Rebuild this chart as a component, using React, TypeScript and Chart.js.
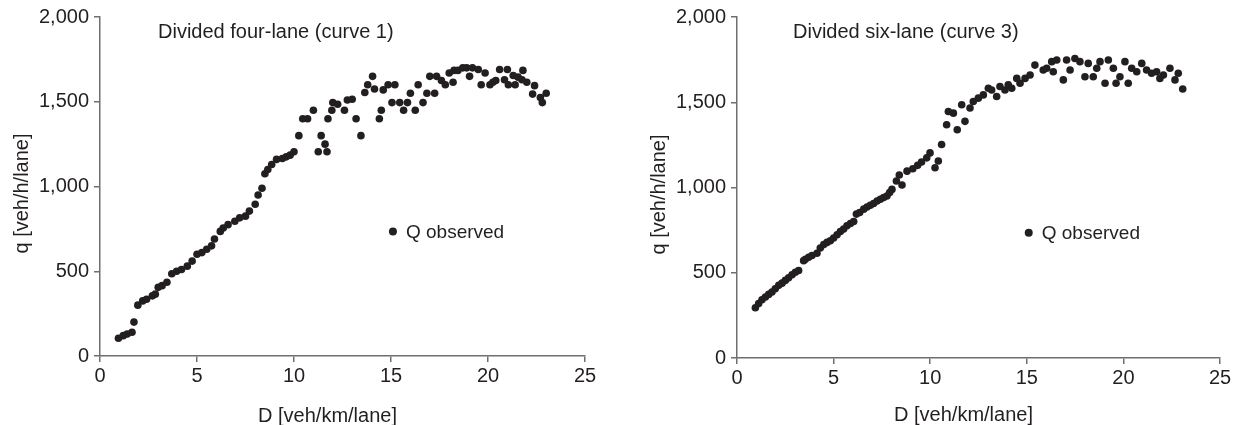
import React, { useEffect, useRef } from "react";
import { Chart, registerables } from "chart.js";

Chart.register(...registerables);

// ---- data ----
const fourLaneD = [
  0.95, 1.2, 1.4, 1.65, 1.75, 1.95, 2.2, 2.4, 2.7, 2.85, 3.0, 3.2, 3.45, 3.7, 3.95, 4.2, 4.5, 4.75, 5.0, 5.25,
  5.5, 5.75, 5.9, 6.2, 6.35, 6.6, 6.95, 7.2, 7.5, 7.7, 8.0, 8.15, 8.35, 8.5, 8.65, 8.85, 9.1, 9.4, 9.6, 9.8,
  10.0, 10.25, 10.45, 10.7, 11.0, 11.25, 11.4, 11.6, 11.7, 11.75, 11.95, 12.0, 12.25, 12.6, 12.75, 13.0, 13.2, 13.45, 13.65, 13.8,
  14.05, 14.15, 14.4, 14.5, 14.6, 14.85, 15.05, 15.2, 15.45, 15.65, 15.85, 16.0, 16.25, 16.4, 16.65, 16.85, 17.0, 17.25, 17.35, 17.6,
  17.8, 18.0, 18.2, 18.25, 18.45, 18.7, 18.9, 19.05, 19.2, 19.5, 19.65, 19.85, 20.1, 20.25, 20.4, 20.6, 20.85, 21.0, 21.05, 21.3,
  21.4, 21.55, 21.75, 21.8, 22.0, 22.3, 22.4, 22.7, 22.8, 23.0,
];
const fourLaneQ = [
  105, 120, 130, 140, 200, 300, 325, 335, 355, 365, 405, 415, 435, 485, 500, 510, 530, 560, 600, 610,
  630, 650, 690, 735, 755, 775, 795, 815, 825, 855, 895, 950, 990, 1075, 1100, 1130, 1160, 1165, 1175, 1185,
  1205, 1300, 1400, 1400, 1450, 1205, 1300, 1250, 1205, 1400, 1450, 1495, 1485, 1450, 1510, 1515, 1400, 1300, 1555, 1600,
  1650, 1575, 1400, 1450, 1570, 1600, 1495, 1600, 1495, 1450, 1495, 1550, 1450, 1600, 1495, 1550, 1650, 1550, 1650, 1625,
  1600, 1670, 1615, 1685, 1685, 1700, 1700, 1650, 1700, 1690, 1600, 1670, 1600, 1615, 1625, 1690, 1630, 1690, 1600, 1655,
  1600, 1645, 1630, 1685, 1615, 1545, 1595, 1525, 1495, 1550,
];

const sixLaneD = [
  0.95, 1.12, 1.29, 1.47, 1.64, 1.81, 1.98, 2.16, 2.33, 2.5, 2.67, 2.85, 3.02, 3.19, 3.45, 3.54, 3.71, 3.88, 4.14, 4.31,
  4.49, 4.66, 4.83, 5.0, 5.18, 5.35, 5.52, 5.69, 5.87, 6.04, 6.18, 6.35, 6.56, 6.73, 6.9, 7.07, 7.25, 7.42, 7.59, 7.76,
  7.9, 8.02, 8.25, 8.4, 8.54, 8.8, 9.1, 9.35, 9.55, 9.82, 9.99, 10.25, 10.42, 10.59, 10.85, 10.94, 11.2, 11.4, 11.63, 11.8,
  12.06, 12.23, 12.49, 12.75, 13.01, 13.18, 13.44, 13.61, 13.87, 14.04, 14.22, 14.48, 14.65, 14.91, 15.17, 15.42, 15.85, 16.03, 16.29, 16.37,
  16.55, 16.89, 17.06, 17.24, 17.49, 17.75, 18.01, 18.18, 18.44, 18.62, 18.79, 19.05, 19.22, 19.48, 19.62, 19.82, 20.08, 20.25, 20.43, 20.69,
  20.95, 21.2, 21.46, 21.72, 21.89, 22.07, 22.41, 22.67, 22.84, 23.07,
];
const sixLaneQ = [
  295, 319, 342, 358, 373, 387, 406, 426, 439, 455, 470, 488, 503, 513, 571, 579, 591, 601, 614, 645,
  665, 678, 688, 704, 723, 742, 756, 776, 789, 801, 844, 853, 873, 886, 896, 906, 921, 931, 941, 950,
  970, 989, 1038, 1073, 1015, 1096, 1110, 1130, 1150, 1174, 1203, 1116, 1155, 1252, 1368, 1446, 1436, 1339, 1485, 1388,
  1466, 1504, 1524, 1543, 1582, 1572, 1534, 1592, 1572, 1602, 1582, 1640, 1611, 1640, 1660, 1718, 1689, 1699, 1738, 1679,
  1748, 1631, 1748, 1689, 1757, 1738, 1650, 1728, 1650, 1699, 1738, 1611, 1748, 1699, 1611, 1650, 1738, 1611, 1699, 1679,
  1728, 1689, 1670, 1679, 1640, 1660, 1699, 1631, 1670, 1578,
];

const xTicks = [0, 5, 10, 15, 20, 25];
const yTicks = [0, 500, 1000, 1500, 2000];
const panelTitles = ["Divided four-lane (curve 1)", "Divided six-lane (curve 3)"];
const xAxisTitle = "D [veh/km/lane]";
const yAxisTitle = "q [veh/h/lane]";
const legendLabel = "Q observed";
const legendAt = [15.1, 735];

// ---- styling ----
const FONT = '"Liberation Sans", Arial, Helvetica, sans-serif';
const INK = "#231f20";
const AXIS = "#6f6f6f";

const panelText = {
  id: "panelText",
  afterDraw(chart: any, _args: any, opts: any) {
    const { ctx, chartArea: ca, scales } = chart;
    ctx.save();
    ctx.fillStyle = INK;
    ctx.textBaseline = "middle";
    ctx.font = `20px ${FONT}`;
    ctx.textAlign = "left";
    ctx.fillText(opts.title, ca.left + opts.titleDx, ca.top + 15);

    const lx = scales.x.getPixelForValue(legendAt[0]);
    const ly = scales.y.getPixelForValue(legendAt[1]);
    ctx.beginPath();
    ctx.arc(lx, ly, 4, 0, Math.PI * 2);
    ctx.fill();
    ctx.font = `19px ${FONT}`;
    ctx.fillText(legendLabel, lx + 13, ly + 1);

    ctx.font = `20px ${FONT}`;
    ctx.textAlign = "center";
    ctx.fillText(xAxisTitle, (ca.left + ca.right) / 2 - 15, ca.bottom + opts.xTitleDy);

    ctx.translate(ca.left + opts.yTitleDx, (ca.top + ca.bottom) / 2 + 7);
    ctx.rotate(-Math.PI / 2);
    ctx.fillText(yAxisTitle, 0, 0);
    ctx.restore();
  },
};

function makeConfig(D: number[], Q: number[], lay: any): any {
  const tickFont = { family: FONT, size: 20 };
  return {
    type: "scatter",
    data: {
      datasets: [
        {
          label: legendLabel,
          data: D.map((d, i) => ({ x: d, y: Q[i] })),
          backgroundColor: INK,
          borderWidth: 0,
          pointRadius: 3.8,
        },
      ],
    },
    options: {
      responsive: false,
      animation: false,
      layout: { padding: { left: 0, right: lay.right, top: lay.top, bottom: 0 } },
      plugins: {
        legend: { display: false },
        tooltip: { enabled: false },
        panelText: { title: lay.title, titleDx: lay.titleDx, yTitleDx: lay.yTitleDx, xTitleDy: lay.xTitleDy },
      },
      scales: {
        x: {
          type: "linear",
          min: 0,
          max: 25,
          afterBuildTicks: (s: any) => {
            s.ticks = xTicks.map((v) => ({ value: v }));
          },
          afterFit: (s: any) => {
            s.height = lay.xh;
          },
          ticks: { color: INK, font: tickFont, padding: 2, maxRotation: 0, autoSkip: false },
          grid: { display: true, drawOnChartArea: false, drawTicks: true, tickLength: 6, color: AXIS, lineWidth: 1.5 },
          border: { display: true, color: AXIS, width: 1.5 },
        },
        y: {
          type: "linear",
          min: 0,
          max: 2000,
          afterBuildTicks: (s: any) => {
            s.ticks = yTicks.map((v) => ({ value: v }));
          },
          afterFit: (s: any) => {
            s.width = lay.yw;
          },
          ticks: {
            color: INK,
            font: tickFont,
            padding: 5,
            autoSkip: false,
            callback: (v: any) => Number(v).toLocaleString("en-US"),
          },
          grid: { display: true, drawOnChartArea: false, drawTicks: true, tickLength: 6, color: AXIS, lineWidth: 1.5 },
          border: { display: true, color: AXIS, width: 1.5 },
        },
      },
    },
    plugins: [panelText],
  };
}

export default function App() {
  const leftRef = useRef<HTMLCanvasElement>(null);
  const rightRef = useRef<HTMLCanvasElement>(null);

  useEffect(() => {
    document.body.style.margin = "0";
    const c1 = new Chart(
      leftRef.current as HTMLCanvasElement,
      makeConfig(fourLaneD, fourLaneQ, { right: 35, top: 14, xh: 69, yw: 100, title: panelTitles[0], titleDx: 58, yTitleDx: -78, xTitleDy: 60 })
    );
    const c2 = new Chart(
      rightRef.current as HTMLCanvasElement,
      makeConfig(sixLaneD, sixLaneQ, { right: 20, top: 15, xh: 67, yw: 117, title: panelTitles[1], titleDx: 56, yTitleDx: -78, xTitleDy: 57 })
    );
    return () => {
      c1.destroy();
      c2.destroy();
    };
  }, []);

  return (
    <div style={{ position: "relative", width: 1240, height: 425, background: "#fff" }}>
      <canvas ref={leftRef} width={620} height={425} style={{ position: "absolute", left: 0, top: 0 }} />
      <canvas ref={rightRef} width={620} height={425} style={{ position: "absolute", left: 620, top: 0 }} />
    </div>
  );
}
